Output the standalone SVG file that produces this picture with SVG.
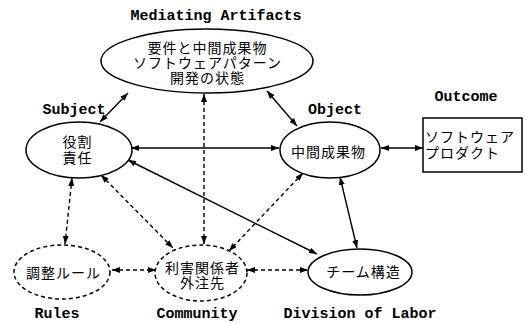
<svg xmlns="http://www.w3.org/2000/svg" width="531" height="323" viewBox="0 0 531 323">
<style>
.lbl{font-family:"Liberation Mono","DejaVu Sans Mono",monospace;font-weight:bold;font-size:15px;fill:#000;text-anchor:middle}
.jp{font-family:"Noto Sans CJK JP","Noto Sans",sans-serif;font-size:14px;letter-spacing:1px;fill:#000;text-anchor:middle}
.node{fill:#fff;stroke:#000;stroke-width:1.5}
.dnode{fill:#fff;stroke:#000;stroke-width:1.5;stroke-dasharray:4 3}
.c{stroke:#000;stroke-width:1.4;fill:none;marker-start:url(#ah);marker-end:url(#ah)}
.d{stroke-dasharray:4 3}
</style>
<defs>
<marker id="ah" markerUnits="userSpaceOnUse" markerWidth="9" markerHeight="7" refX="8" refY="3" orient="auto-start-reverse">
<path d="M0,0 L8,3 L0,6 z" fill="#000"/>
</marker>
</defs>
<rect width="531" height="323" fill="#fff"/>
<g id="connectors">
<line class="c" x1="131" y1="148" x2="279" y2="148"/>
<line class="c" x1="381" y1="148" x2="423" y2="148"/>
<line class="c" x1="128" y1="93" x2="100" y2="122"/>
<line class="c" x1="267" y1="91" x2="297" y2="126"/>
<line class="c d" x1="204" y1="94" x2="204" y2="244"/>
<line class="c d" x1="72" y1="178" x2="65" y2="244"/>
<line class="c d" x1="101" y1="175" x2="173" y2="248"/>
<line class="c d" x1="303" y1="173" x2="229" y2="251"/>
<line class="c" x1="128" y1="160" x2="317" y2="254"/>
<line class="c" x1="340" y1="177" x2="357" y2="248"/>
<line class="c d" x1="112" y1="270" x2="156" y2="270"/>
<line class="c d" x1="247" y1="270" x2="308" y2="270"/>
</g>
<g id="mediating">
<ellipse class="node" cx="207" cy="61" rx="106" ry="32"/>
<text class="lbl" x="216" y="20">Mediating Artifacts</text>
<text class="jp" x="207.5" y="53">要件と中間成果物</text>
<text class="jp" x="207.5" y="68">ソフトウェアパターン</text>
<text class="jp" x="207.5" y="83">開発の状態</text>
</g>
<g id="subject">
<ellipse class="node" cx="79" cy="150" rx="53" ry="28"/>
<text class="lbl" x="74" y="114">Subject</text>
<text class="jp" x="77.5" y="147">役割</text>
<text class="jp" x="77.5" y="163">責任</text>
</g>
<g id="object">
<ellipse class="node" cx="330" cy="150" rx="50" ry="28"/>
<text class="lbl" x="335" y="114">Object</text>
<text class="jp" x="328.5" y="157">中間成果物</text>
</g>
<g id="outcome">
<rect class="node" x="423" y="118" width="99" height="54"/>
<text class="lbl" x="466" y="101">Outcome</text>
<text class="jp" x="425" y="142" style="text-anchor:start">ソフトウェア</text>
<text class="jp" x="425" y="158" style="text-anchor:start">プロダクト</text>
</g>
<g id="rules">
<ellipse class="dnode" cx="62" cy="272" rx="48" ry="27"/>
<text class="jp" x="63.5" y="277.5">調整ルール</text>
<text class="lbl" x="57" y="318">Rules</text>
</g>
<g id="community">
<ellipse class="dnode" cx="201" cy="273" rx="46" ry="28"/>
<text class="jp" x="202.5" y="272.5">利害関係者</text>
<text class="jp" x="202.5" y="288">外注先</text>
<text class="lbl" x="197" y="318">Community</text>
</g>
<g id="division">
<ellipse class="node" cx="360" cy="272" rx="52" ry="23"/>
<text class="jp" x="363.5" y="277">チーム構造</text>
<text class="lbl" x="360" y="318">Division of Labor</text>
</g>
</svg>
